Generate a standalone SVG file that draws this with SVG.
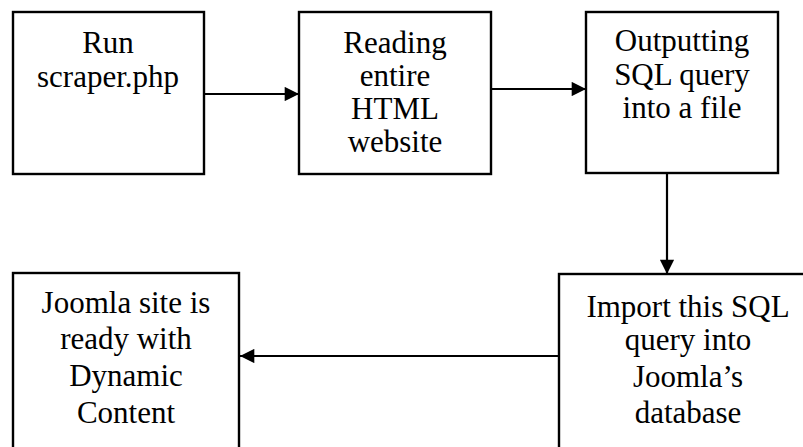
<svg xmlns="http://www.w3.org/2000/svg" width="803" height="447" viewBox="0 0 803 447">
<defs>
<style>
.box{fill:#fff;stroke:#000;stroke-width:2.4}
.t{font-family:"Liberation Serif","Times New Roman",serif;font-size:31px;fill:#000;text-anchor:middle}
.c{stroke:#000;stroke-width:2.2;fill:none}
</style>
<marker id="ah" viewBox="0 0 10 10" refX="10" refY="5" markerWidth="7.5" markerHeight="6.5" markerUnits="strokeWidth" orient="auto">
<path d="M0,0 L10,5 L0,10 z" fill="#000"/>
</marker>
</defs>
<rect width="803" height="447" fill="#fff"/>
<g id="connectors">
<line class="c" x1="204" y1="94" x2="299" y2="94" marker-end="url(#ah)"/>
<line class="c" x1="491" y1="89" x2="586" y2="89" marker-end="url(#ah)"/>
<line class="c" x1="667" y1="173" x2="667" y2="274" marker-end="url(#ah)"/>
<line class="c" x1="559" y1="356" x2="240" y2="356" marker-end="url(#ah)"/>
</g>
<g id="n1">
<rect class="box" x="13" y="12" width="191" height="162"/>
<text class="t" x="108" y="53">Run</text>
<text class="t" x="108" y="87">scraper.php</text>
</g>
<g id="n2">
<rect class="box" x="299" y="12" width="192" height="162"/>
<text class="t" x="395" y="53">Reading</text>
<text class="t" x="395" y="86">entire</text>
<text class="t" x="395" y="119">HTML</text>
<text class="t" x="395" y="152">website</text>
</g>
<g id="n3">
<rect class="box" x="586" y="12" width="192" height="161"/>
<text class="t" x="682" y="51">Outputting</text>
<text class="t" x="682" y="85">SQL query</text>
<text class="t" x="682" y="118">into a file</text>
</g>
<g id="n4">
<rect class="box" x="559" y="274" width="260" height="190"/>
<text class="t" x="688" y="317">Import this SQL</text>
<text class="t" x="688" y="350">query into</text>
<text class="t" x="688" y="387">Joomla’s</text>
<text class="t" x="688" y="423">database</text>
</g>
<g id="n5">
<rect class="box" x="13" y="273" width="226" height="190"/>
<text class="t" x="126" y="313">Joomla site is</text>
<text class="t" x="126" y="349">ready with</text>
<text class="t" x="126" y="386">Dynamic</text>
<text class="t" x="126" y="423">Content</text>
</g>
</svg>
